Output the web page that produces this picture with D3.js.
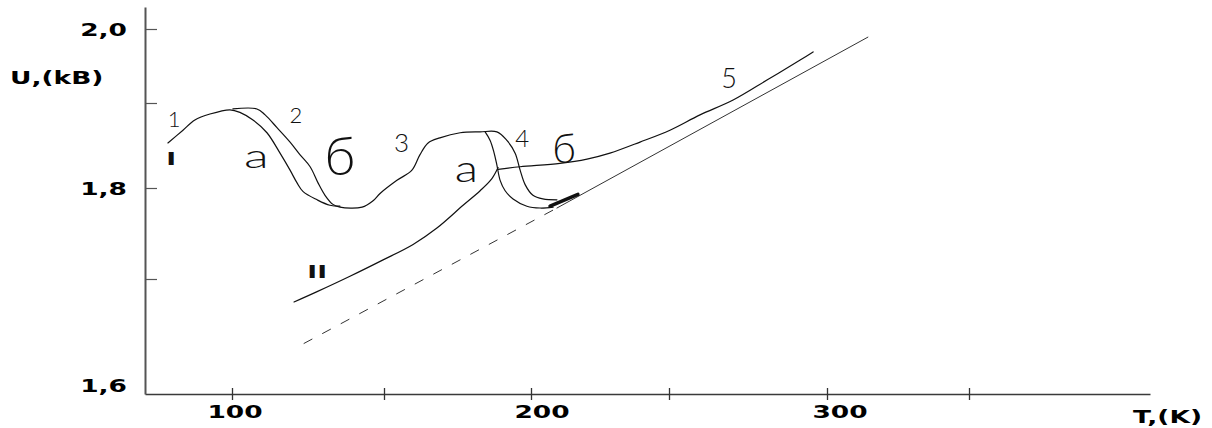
<!DOCTYPE html>
<html>
<head>
<meta charset="utf-8">
<script src="https://cdn.jsdelivr.net/npm/d3@7"></script>
<style>
  body { margin: 0; background: #fff; }
  svg { display: block; }
</style>
</head>
<body>
<div id="chart"></div>
<script>
// axis ticks
const tTicks = [100, 150, 200, 250, 300, 350];
const tLabels = ['100', '', '200', '', '300', ''];
const uTicks = [1.6, 1.7, 1.8, 1.9, 2.0];
const uLabels = ['1,6', '', '1,8', '', '2,0'];

// curve I, branch a (left hump)
const curveIa = [[77.9,1.853],[83.1,1.868],[87.2,1.880],[92.4,1.887],[99.3,1.892],[102.6,1.889],
  [106.9,1.880],[111.5,1.865],[115.8,1.841],[119.1,1.821],[121.4,1.806],[123.4,1.796],
  [128.0,1.787],[132.2,1.781],[135.5,1.780]];
// branch б: flat top, descent, valley, second hump, right descent
const curveIb = [[100.3,1.893],[108.2,1.893],[110.9,1.886],[114.8,1.871],[119.1,1.854],[122.4,1.839],
  [125.7,1.825],[128.3,1.806],[130.6,1.792],[133.2,1.782],[135.5,1.779],[142.8,1.779],
  [146.4,1.786],[148.7,1.794],[154.4,1.809],[159.5,1.821],[162.2,1.839],[165.0,1.853],
  [169.0,1.859],[175.9,1.865],[182.7,1.866],[188.4,1.866],[191.8,1.856],[194.6,1.841],
  [196.3,1.821],[198.0,1.804],[200.7,1.792],[204.3,1.788],[209.4,1.787]];
// branch a, right descent
const curveIa2 = [[184.4,1.866],[186.1,1.856],[187.4,1.842],[188.4,1.827],[189.5,1.809],[191.2,1.797],
  [193.9,1.788],[198.6,1.780],[203.3,1.778],[208.0,1.779]];
// curve II
const curveII = [[120.4,1.680],[128.0,1.689],[138.8,1.703],[149.7,1.721],[159.9,1.738],[168.0,1.756],
  [176.9,1.781],[182.7,1.797],[186.7,1.811],[188.8,1.824]];
// curve 5
const curve5 = [[188.8,1.822],[196.3,1.825],[210.5,1.829],[220.3,1.834],[228.6,1.841],[239.5,1.854],
  [250.3,1.868],[259.8,1.886],[270.3,1.904],[281.0,1.931],[291.5,1.958],[295.6,1.969]];
// straight reference line: dashed part then solid part
const refDashed = [[123.7,1.644],[209.4,1.778]];
const refSolid = [[209.4,1.778],[314.4,1.989]];
const arrowMark = [[206.9,1.780],[217.0,1.793]];

// hand written marks
const notes = [
  { t: 'I', T: 79.0, U: 1.827, bold: true },
  { t: 'II', T: 128.0, U: 1.701, bold: true },
  { t: '1', T: 80.0, U: 1.872, size: 22 },
  { t: '2', T: 121.0, U: 1.877, size: 22 },
  { t: 'a', T: 108.0, U: 1.824, size: 34, sx: 1.5 },
  { t: 'б', T: 135.5, U: 1.815, size: 54 },
  { t: '3', T: 156.0, U: 1.842, size: 26 },
  { t: 'a', T: 178.0, U: 1.807, size: 37, sx: 1.3 },
  { t: '4', T: 197.0, U: 1.848, size: 24 },
  { t: 'б', T: 212.0, U: 1.829, size: 41 },
  { t: '5', T: 269.0, U: 1.920, size: 27 }
];

const width = 1212;
const height = 428;

// hand drawn axes are uneven, so both scales are piecewise
const x = d3.scaleLinear()
  .domain([70, 100, 150, 200, 250, 300, 350, 410])
  .range([145, 232, 384, 531, 669, 827, 969, 1150]);

const y = d3.scaleLinear()
  .domain([1.6, 1.7, 1.8, 1.9, 2.0, 2.03])
  .range([394, 279, 188, 103, 29, 7]);

const svg = d3.select('#chart')
  .append('svg')
  .attr('width', width)
  .attr('height', height)
  .attr('viewBox', [0, 0, width, height]);

const boldFont = "'DejaVu Sans', Verdana, sans-serif";
const handFont = "Lato, 'Open Sans', sans-serif";
const stretch = 1.47;

// x axis
const gx = svg.append('g')
  .attr('transform', `translate(0, ${y(1.6)})`)
  .call(d3.axisBottom(x).tickValues(tTicks).tickSize(6).tickSizeOuter(0).tickFormat(''));
gx.select('.domain').attr('stroke', '#3a3a3a').attr('stroke-width', 1.6);
gx.selectAll('.tick line').attr('y1', -6).attr('stroke', '#333').attr('stroke-width', 1.3);

// y axis
const gy = svg.append('g')
  .attr('transform', `translate(${x(70)}, 0)`)
  .call(d3.axisLeft(y).tickValues(uTicks).tickSize(8).tickSizeOuter(0).tickFormat(''));
gy.select('.domain').attr('stroke', '#555').attr('stroke-width', 2);
gy.selectAll('.tick line').attr('x2', 12).attr('stroke', '#555').attr('stroke-width', 1.2)
  .filter(d => d === 1.6).remove();

// tick labels, hand placed offsets
const tNudge = { 100: 3, 200: 11, 300: 13 };
svg.append('g')
  .selectAll('text')
  .data(tTicks.map((d, i) => ({ v: d, s: tLabels[i] })).filter(d => d.s))
  .join('text')
    .attr('transform', d => `translate(${x(d.v) + tNudge[d.v]}, 418) scale(${stretch}, 1)`)
    .attr('text-anchor', 'middle')
    .attr('font-family', boldFont)
    .attr('font-weight', 'bold')
    .attr('font-size', 18)
    .text(d => d.s);

svg.append('g')
  .selectAll('text')
  .data(uTicks.map((d, i) => ({ v: d, s: uLabels[i] })).filter(d => d.s))
  .join('text')
    .attr('transform', d => `translate(127, ${y(d.v) + (d.v === 1.6 ? -2 : 6.5)}) scale(${stretch}, 1)`)
    .attr('text-anchor', 'end')
    .attr('font-family', boldFont)
    .attr('font-weight', 'bold')
    .attr('font-size', 18)
    .text(d => d.s);

// axis titles
svg.append('text')
  .attr('transform', `translate(10, 84) scale(${stretch}, 1)`)
  .attr('font-family', boldFont)
  .attr('font-weight', 'bold')
  .attr('font-size', 18)
  .text('U,(kB)');

svg.append('text')
  .attr('transform', `translate(1202, 423) scale(${stretch}, 1)`)
  .attr('text-anchor', 'end')
  .attr('font-family', boldFont)
  .attr('font-weight', 'bold')
  .attr('font-size', 18)
  .text('T,(K)');

// curves
const line = d3.line()
  .x(d => x(d[0]))
  .y(d => y(d[1]))
  .curve(d3.curveCatmullRom.alpha(0.5));

const straight = d3.line()
  .x(d => x(d[0]))
  .y(d => y(d[1]));

const curves = svg.append('g')
  .attr('fill', 'none')
  .attr('stroke', '#111')
  .attr('stroke-width', 1.2)
  .attr('stroke-linejoin', 'round')
  .attr('stroke-linecap', 'round');

[curveIa, curveIb, curveIa2, curveII, curve5].forEach(c => {
  curves.append('path').attr('d', line(c));
});

curves.append('path')
  .attr('d', straight(refSolid))
  .attr('stroke', '#333')
  .attr('stroke-width', 1);

curves.append('path')
  .attr('d', straight(refDashed))
  .attr('stroke', '#333')
  .attr('stroke-width', 1)
  .attr('stroke-dasharray', '9,12');

curves.append('path')
  .attr('d', straight(arrowMark))
  .attr('stroke-width', 3.5);

// labels written on the plot
svg.append('g')
  .selectAll('text')
  .data(notes)
  .join('text')
    .attr('transform', d => `translate(${x(d.T)}, ${y(d.U)}) scale(${d.bold ? stretch : (d.sx || 1)}, 1)`)
    .attr('text-anchor', 'middle')
    .attr('font-family', d => d.bold ? boldFont : handFont)
    .attr('font-weight', d => d.bold ? 'bold' : 300)
    .attr('font-size', d => d.size || 18)
    .attr('fill', '#111')
    .text(d => d.t);
</script>
</body>
</html>
